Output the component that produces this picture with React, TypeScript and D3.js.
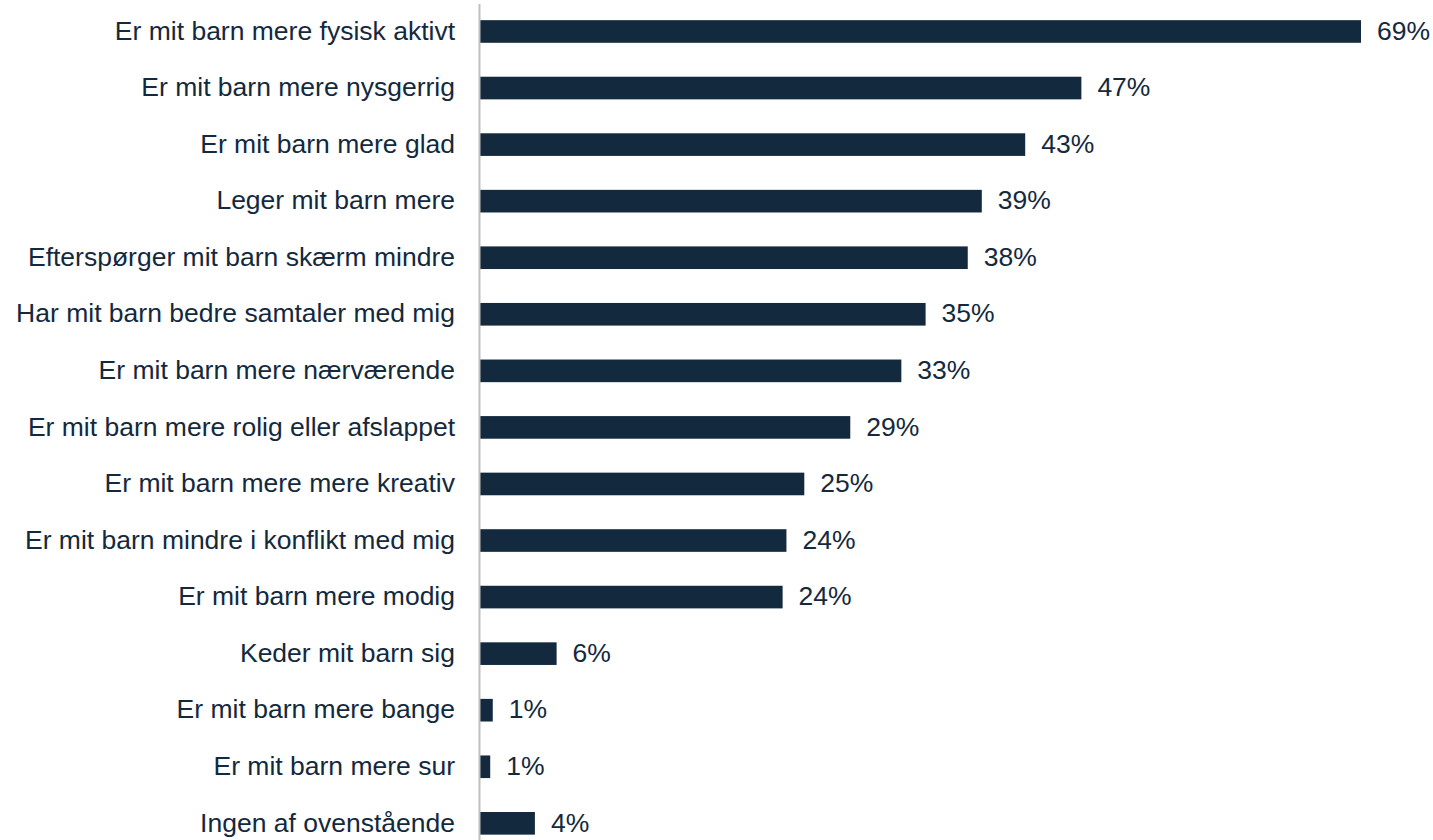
import React from "react";
import * as d3 from "d3";

const categories = [
  "Er mit barn mere fysisk aktivt",
  "Er mit barn mere nysgerrig",
  "Er mit barn mere glad",
  "Leger mit barn mere",
  "Efterspørger mit barn skærm mindre",
  "Har mit barn bedre samtaler med mig",
  "Er mit barn mere nærværende",
  "Er mit barn mere rolig eller afslappet",
  "Er mit barn mere mere kreativ",
  "Er mit barn mindre i konflikt med mig",
  "Er mit barn mere modig",
  "Keder mit barn sig",
  "Er mit barn mere bange",
  "Er mit barn mere sur",
  "Ingen af ovenstående",
];

const values = [69.0, 47.1, 42.7, 39.3, 38.2, 34.9, 33.0, 29.0, 25.4, 24.0, 23.7, 6.0, 1.0, 0.8, 4.3];
const valueLabels = ["69%", "47%", "43%", "39%", "38%", "35%", "33%", "29%", "25%", "24%", "24%", "6%", "1%", "1%", "4%"];

const W = 1433;
const H = 840;
const BAR = "#13293D";
const FONT = "'Liberation Sans', Arial, sans-serif";
const FS = 26.5;

export default function App() {
  const x = d3.scaleLinear().domain([0, 69]).range([480, 1361]);
  const y = d3
    .scaleBand<string>()
    .domain(categories)
    .range([3.2, 3.2 + 56.56 * categories.length])
    .paddingInner(0.6)
    .paddingOuter(0.3);

  return (
    <svg
      width={W}
      height={H}
      style={{ position: "fixed", left: 0, top: 0, background: "#fff" }}
      fontFamily={FONT}
    >
      <rect width={W} height={H} fill="#fff" />
      {categories.map((c, i) => {
        const yy = y(c)!;
        const cy = yy + y.bandwidth() / 2;
        return (
          <g key={c}>
            <rect x={x(0)} y={yy} width={x(values[i]) - x(0)} height={y.bandwidth()} fill={BAR} />
            <text x={455} y={cy} dy="0.31em" textAnchor="end" fontSize={FS} fill={BAR}>
              {c}
            </text>
            <text x={x(values[i]) + 16} y={cy} dy="0.31em" fontSize={FS} fill={BAR}>
              {valueLabels[i]}
            </text>
          </g>
        );
      })}
      <line x1={479.5} x2={479.5} y1={4} y2={H} stroke="#BFBFBF" strokeWidth={2} />
    </svg>
  );
}
